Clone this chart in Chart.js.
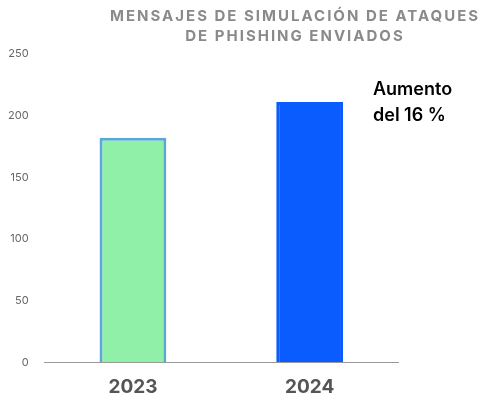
<!DOCTYPE html>
<html><head><meta charset="utf-8">
<script src="https://cdn.jsdelivr.net/npm/chart.js@4/dist/chart.umd.min.js"></script>
<style>
body{margin:0;width:498px;height:409px;overflow:hidden;background:#fff;font-family:Inter,"Noto Sans",sans-serif;position:relative}
#t{position:absolute;left:100px;width:390px;top:6px;text-align:center;color:#8a8a8a;font-weight:700;font-size:15px;letter-spacing:2px;line-height:20px}
#a{position:absolute;left:373px;top:76px;font-size:18px;font-weight:600;color:#000;line-height:26px}
#w{position:absolute;left:0;top:0;width:498px;height:409px}
</style></head><body>
<div id="w"><canvas id="c"></canvas></div>
<div id="t">MENSAJES DE SIMULACIÓN DE ATAQUES DE PHISHING ENVIADOS</div>
<div id="a">Aumento<br>del 16 %</div>
<script>
const categories=["2023","2024"];
const values=[182,211];
const yTicks=[0,50,100,150,200,250];
new Chart(document.getElementById('c'),{type:'bar',
data:{labels:categories,datasets:[{data:values,backgroundColor:['#90f0a8','#0a5cff'],borderColor:['#5aa8d8','#0a5cff'],borderWidth:3,barPercentage:0.378,categoryPercentage:1}]},
options:{responsive:true,maintainAspectRatio:false,animation:false,
layout:{padding:{top:54,right:100,bottom:4,left:0}},
plugins:{legend:{display:false},tooltip:{enabled:false}},
scales:{y:{min:0,max:250,afterBuildTicks:s=>{s.ticks=yTicks.map(v=>({value:v}))},grid:{display:false},border:{display:false},ticks:{color:'#666',font:{size:11,family:'Inter'},padding:8}},
x:{grid:{display:false},border:{color:'#999',width:1},ticks:{color:'#555',font:{size:19,weight:'bold',family:'Inter'},padding:6}}}}});
</script></body></html>
